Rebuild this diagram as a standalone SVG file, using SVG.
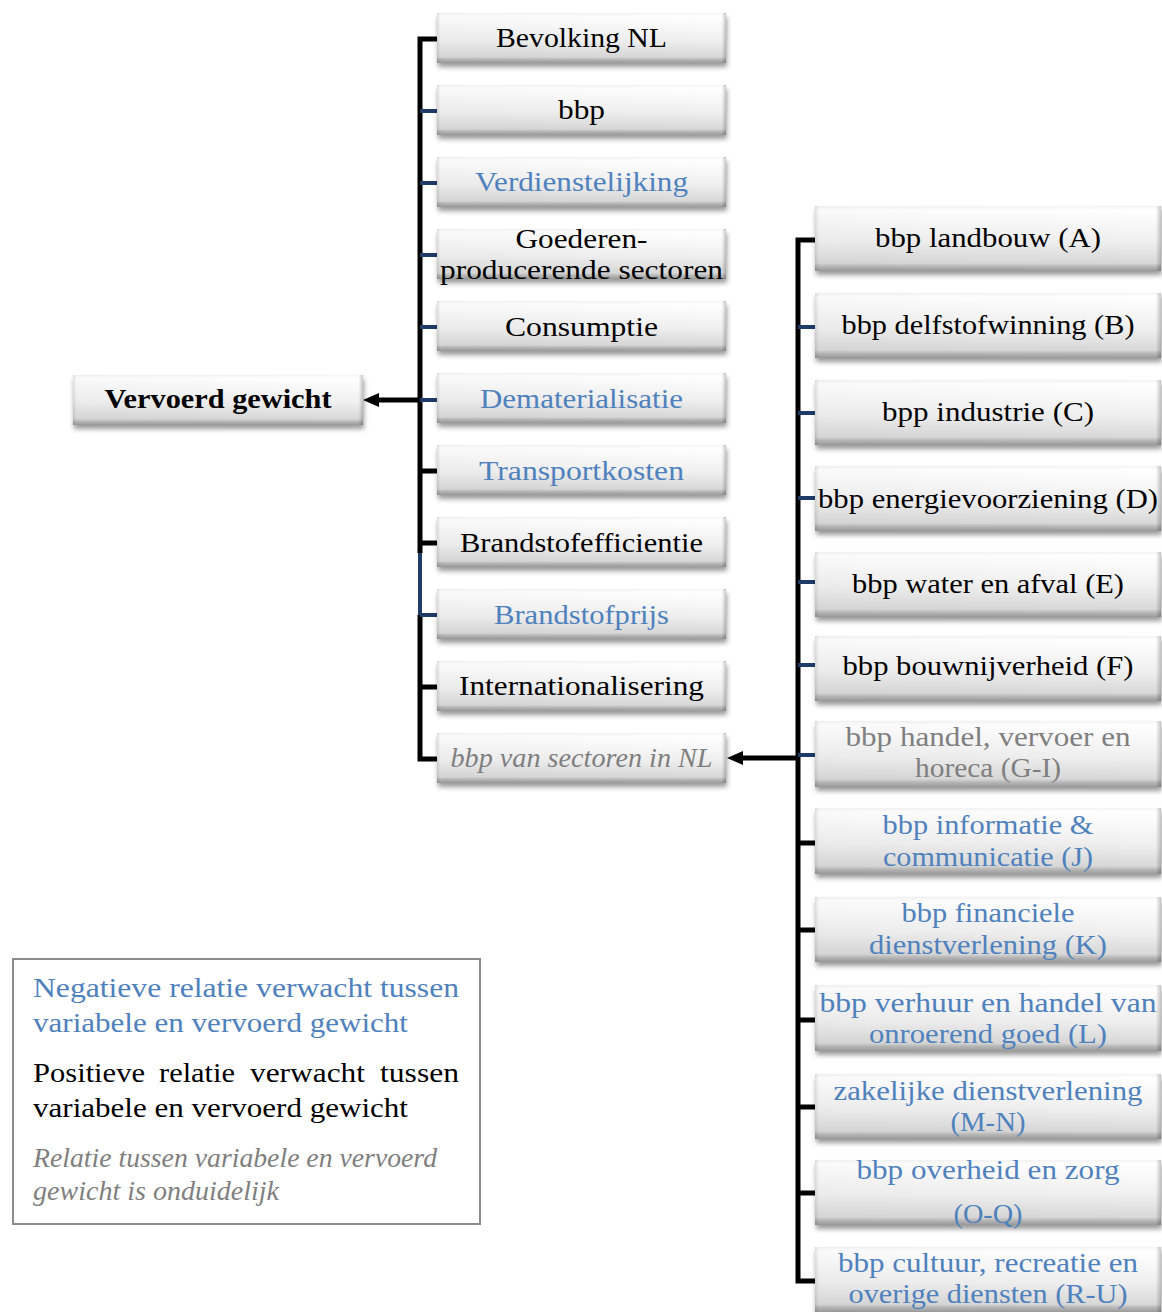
<svg xmlns="http://www.w3.org/2000/svg" width="1162" height="1312" viewBox="0 0 1162 1312">
<defs>
<linearGradient id="gFill" x1="0" y1="0" x2="0" y2="1">
<stop offset="0" stop-color="#f4f4f4"/>
<stop offset="0.06" stop-color="#ffffff"/>
<stop offset="0.55" stop-color="#efefef"/>
<stop offset="0.88" stop-color="#d8d8d8"/>
<stop offset="0.93" stop-color="#b8b8b8"/>
<stop offset="1" stop-color="#9a9a9a"/>
</linearGradient>
<linearGradient id="gEdge" x1="0" y1="0" x2="1" y2="0">
<stop offset="0" stop-color="#000" stop-opacity="0.12"/>
<stop offset="0.012" stop-color="#000" stop-opacity="0.02"/>
<stop offset="0.985" stop-color="#000" stop-opacity="0"/>
<stop offset="1" stop-color="#000" stop-opacity="0.22"/>
</linearGradient>
<filter id="shadow" x="-5%" y="-20%" width="112%" height="160%">
<feGaussianBlur in="SourceAlpha" stdDeviation="2.5"/>
<feOffset dx="1" dy="4"/>
<feComponentTransfer><feFuncA type="linear" slope="0.4"/></feComponentTransfer>
<feMerge><feMergeNode/><feMergeNode in="SourceGraphic"/></feMerge>
</filter>
<marker id="arrow" viewBox="0 0 16 14" refX="0" refY="7" markerWidth="16" markerHeight="14" markerUnits="userSpaceOnUse" orient="auto">
<path d="M0,0 L16,7 L0,14 z" fill="#000"/>
</marker>
</defs>
<style>
.bx{fill:url(#gFill);filter:url(#shadow)}
.ed{fill:url(#gEdge)}
.t{font-family:"Liberation Serif","Times New Roman",serif;font-size:28px;text-anchor:middle}
.k{fill:#000}
.b{fill:#4f81bd}
.g{fill:#7f7f7f}
.i{font-style:italic}
.bold{font-weight:bold}
.lg{font-family:"Liberation Serif","Times New Roman",serif;font-size:28px}
.cb{fill:none;stroke:#000;stroke-width:5}
.cu{fill:none;stroke:#1f3b68;stroke-width:4}
</style>
<rect width="1162" height="1312" fill="#fff"/>

<g id="connectors">
<path class="cb" d="M437,39 H420 V553"/>
<path class="cu" d="M420,553 V615"/>
<path class="cb" d="M420,615 V759 H437"/>
<path class="cu" d="M420,111 H437 M420,183 H437 M420,255 H437 M420,327 H437 M420,400 H437 M420,615 H437"/>
<path class="cb" d="M420,471 H437 M420,543 H437 M420,687 H437"/>
<path class="cb" d="M420,400 H379" marker-end="url(#arrow)"/>
<path class="cb" d="M815,240 H798 V1281 H815"/>
<path class="cu" d="M798,327 H815 M798,413 H815 M798,498 H815 M798,582 H815 M798,665 H815 M798,755 H815"/>
<path class="cb" d="M798,843 H815 M798,930 H815 M798,1020 H815 M798,1107 H815 M798,1193 H815"/>
<path class="cb" d="M798,758 H743" marker-end="url(#arrow)"/>
</g>

<g id="vervoerd-gewicht"><rect class="bx" x="73" y="375" width="290" height="50"/><rect class="ed" x="73" y="375" width="290" height="50"/><text class="t k bold" x="218" y="408" textLength="227" lengthAdjust="spacingAndGlyphs">Vervoerd gewicht</text></g>

<g id="bevolking-nl"><rect class="bx" x="437" y="13" width="289" height="50"/><rect class="ed" x="437" y="13" width="289" height="50"/><text class="t k" x="581.5" y="47" textLength="171" lengthAdjust="spacingAndGlyphs">Bevolking NL</text></g>
<g id="bbp"><rect class="bx" x="437" y="85" width="289" height="50"/><rect class="ed" x="437" y="85" width="289" height="50"/><text class="t k" x="581.5" y="119" textLength="47" lengthAdjust="spacingAndGlyphs">bbp</text></g>
<g id="verdienstelijking"><rect class="bx" x="437" y="157" width="289" height="50"/><rect class="ed" x="437" y="157" width="289" height="50"/><text class="t b" x="581.5" y="191" textLength="213" lengthAdjust="spacingAndGlyphs">Verdienstelijking</text></g>
<g id="goederen"><rect class="bx" x="437" y="229" width="289" height="50"/><rect class="ed" x="437" y="229" width="289" height="50"/><text class="t k" x="581.5" y="248" textLength="132" lengthAdjust="spacingAndGlyphs">Goederen-</text><text class="t k" x="581.5" y="279" textLength="283" lengthAdjust="spacingAndGlyphs">producerende sectoren</text></g>
<g id="consumptie"><rect class="bx" x="437" y="301" width="289" height="50"/><rect class="ed" x="437" y="301" width="289" height="50"/><text class="t k" x="581.5" y="336" textLength="153" lengthAdjust="spacingAndGlyphs">Consumptie</text></g>
<g id="dematerialisatie"><rect class="bx" x="437" y="373" width="289" height="50"/><rect class="ed" x="437" y="373" width="289" height="50"/><text class="t b" x="581.5" y="408" textLength="203" lengthAdjust="spacingAndGlyphs">Dematerialisatie</text></g>
<g id="transportkosten"><rect class="bx" x="437" y="445" width="289" height="50"/><rect class="ed" x="437" y="445" width="289" height="50"/><text class="t b" x="581.5" y="480" textLength="205" lengthAdjust="spacingAndGlyphs">Transportkosten</text></g>
<g id="brandstofefficientie"><rect class="bx" x="437" y="517" width="289" height="50"/><rect class="ed" x="437" y="517" width="289" height="50"/><text class="t k" x="581.5" y="552" textLength="243" lengthAdjust="spacingAndGlyphs">Brandstofefficientie</text></g>
<g id="brandstofprijs"><rect class="bx" x="437" y="589" width="289" height="50"/><rect class="ed" x="437" y="589" width="289" height="50"/><text class="t b" x="581.5" y="624" textLength="175" lengthAdjust="spacingAndGlyphs">Brandstofprijs</text></g>
<g id="internationalisering"><rect class="bx" x="437" y="661" width="289" height="50"/><rect class="ed" x="437" y="661" width="289" height="50"/><text class="t k" x="581.5" y="695" textLength="245" lengthAdjust="spacingAndGlyphs">Internationalisering</text></g>
<g id="bbp-sectoren"><rect class="bx" x="437" y="733" width="289" height="50"/><rect class="ed" x="437" y="733" width="289" height="50"/><text class="t g i" x="581.5" y="767" textLength="262" lengthAdjust="spacingAndGlyphs">bbp van sectoren in NL</text></g>

<g id="landbouw"><rect class="bx" x="815" y="206" width="346" height="65"/><rect class="ed" x="815" y="206" width="346" height="65"/><text class="t k" x="988" y="247" textLength="226" lengthAdjust="spacingAndGlyphs">bbp landbouw (A)</text></g>
<g id="delfstofwinning"><rect class="bx" x="815" y="293" width="346" height="65"/><rect class="ed" x="815" y="293" width="346" height="65"/><text class="t k" x="988" y="334" textLength="293" lengthAdjust="spacingAndGlyphs">bbp delfstofwinning (B)</text></g>
<g id="industrie"><rect class="bx" x="815" y="380" width="346" height="65"/><rect class="ed" x="815" y="380" width="346" height="65"/><text class="t k" x="988" y="421" textLength="212" lengthAdjust="spacingAndGlyphs">bpp industrie (C)</text></g>
<g id="energievoorziening"><rect class="bx" x="815" y="466" width="346" height="65"/><rect class="ed" x="815" y="466" width="346" height="65"/><text class="t k" x="988" y="508" textLength="340" lengthAdjust="spacingAndGlyphs">bbp energievoorziening (D)</text></g>
<g id="water-afval"><rect class="bx" x="815" y="552" width="346" height="65"/><rect class="ed" x="815" y="552" width="346" height="65"/><text class="t k" x="988" y="593" textLength="272" lengthAdjust="spacingAndGlyphs">bbp water en afval (E)</text></g>
<g id="bouwnijverheid"><rect class="bx" x="815" y="636" width="346" height="65"/><rect class="ed" x="815" y="636" width="346" height="65"/><text class="t k" x="988" y="675" textLength="291" lengthAdjust="spacingAndGlyphs">bbp bouwnijverheid (F)</text></g>
<g id="handel"><rect class="bx" x="815" y="721" width="346" height="66"/><rect class="ed" x="815" y="721" width="346" height="66"/><text class="t g" x="988" y="746" textLength="285" lengthAdjust="spacingAndGlyphs">bbp handel, vervoer en</text><text class="t g" x="988" y="777" textLength="146" lengthAdjust="spacingAndGlyphs">horeca (G-I)</text></g>
<g id="informatie"><rect class="bx" x="815" y="808" width="346" height="66"/><rect class="ed" x="815" y="808" width="346" height="66"/><text class="t b" x="988" y="834" textLength="211" lengthAdjust="spacingAndGlyphs">bbp informatie &amp;</text><text class="t b" x="988" y="866" textLength="210" lengthAdjust="spacingAndGlyphs">communicatie (J)</text></g>
<g id="financiele"><rect class="bx" x="815" y="897" width="346" height="65"/><rect class="ed" x="815" y="897" width="346" height="65"/><text class="t b" x="988" y="922" textLength="173" lengthAdjust="spacingAndGlyphs">bbp financiele</text><text class="t b" x="988" y="954" textLength="238" lengthAdjust="spacingAndGlyphs">dienstverlening (K)</text></g>
<g id="verhuur"><rect class="bx" x="815" y="985" width="346" height="66"/><rect class="ed" x="815" y="985" width="346" height="66"/><text class="t b" x="988" y="1012" textLength="337" lengthAdjust="spacingAndGlyphs">bbp verhuur en handel van</text><text class="t b" x="988" y="1043" textLength="238" lengthAdjust="spacingAndGlyphs">onroerend goed (L)</text></g>
<g id="zakelijke"><rect class="bx" x="815" y="1074" width="346" height="65"/><rect class="ed" x="815" y="1074" width="346" height="65"/><text class="t b" x="988" y="1100" textLength="309" lengthAdjust="spacingAndGlyphs">zakelijke dienstverlening</text><text class="t b" x="988" y="1131" textLength="75" lengthAdjust="spacingAndGlyphs">(M-N)</text></g>
<g id="overheid"><rect class="bx" x="815" y="1160" width="346" height="65"/><rect class="ed" x="815" y="1160" width="346" height="65"/><text class="t b" x="988" y="1179" textLength="263" lengthAdjust="spacingAndGlyphs">bbp overheid en zorg</text><text class="t b" x="988" y="1223" textLength="69" lengthAdjust="spacingAndGlyphs">(O-Q)</text></g>
<g id="cultuur"><rect class="bx" x="815" y="1247" width="346" height="65"/><rect class="ed" x="815" y="1247" width="346" height="65"/><text class="t b" x="988" y="1272" textLength="300" lengthAdjust="spacingAndGlyphs">bbp cultuur, recreatie en</text><text class="t b" x="988" y="1303" textLength="279" lengthAdjust="spacingAndGlyphs">overige diensten (R-U)</text></g>

<g id="legend">
<rect x="13" y="959" width="467" height="265" fill="#fff" stroke="#8c8c8c" stroke-width="2"/>
<text class="lg b" x="33" y="997" textLength="426" lengthAdjust="spacingAndGlyphs">Negatieve relatie verwacht tussen</text>
<text class="lg b" x="33" y="1032" textLength="375" lengthAdjust="spacingAndGlyphs">variabele en vervoerd gewicht</text>
<text class="lg k" y="1082"><tspan x="33" textLength="112" lengthAdjust="spacingAndGlyphs">Positieve</tspan> <tspan x="159" textLength="76" lengthAdjust="spacingAndGlyphs">relatie</tspan> <tspan x="250" textLength="115" lengthAdjust="spacingAndGlyphs">verwacht</tspan> <tspan x="380" textLength="79" lengthAdjust="spacingAndGlyphs">tussen</tspan></text>
<text class="lg k" x="33" y="1117" textLength="375" lengthAdjust="spacingAndGlyphs">variabele en vervoerd gewicht</text>
<text class="lg g i" x="33" y="1167" textLength="404" lengthAdjust="spacingAndGlyphs">Relatie tussen variabele en vervoerd</text>
<text class="lg g i" x="33" y="1200" textLength="246" lengthAdjust="spacingAndGlyphs">gewicht is onduidelijk</text>
</g>
</svg>
